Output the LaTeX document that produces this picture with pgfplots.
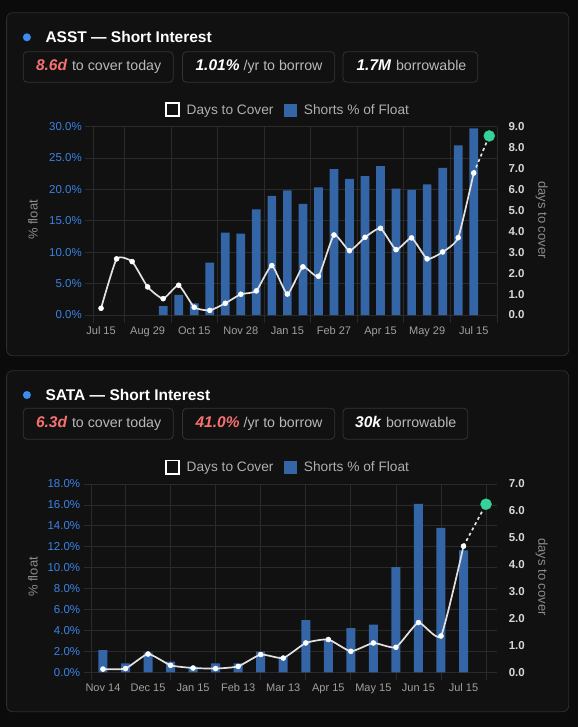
\documentclass[border=0pt]{standalone}
\usepackage{pgfplots}
\pgfplotsset{compat=1.18}
\usepackage{pgfplotstable}
\usepackage{fontspec}
\setmainfont{Liberation Sans}
\definecolor{pagebg}{RGB}{11,11,11}
\definecolor{cardbg}{RGB}{17,17,17}
\definecolor{cardborder}{RGB}{46,46,46}
\definecolor{boxborder}{RGB}{52,52,52}
\definecolor{gridc}{RGB}{42,42,42}
\definecolor{barblue}{RGB}{52,101,166}
\definecolor{tickblue}{RGB}{59,130,230}
\definecolor{tickgray}{RGB}{160,160,160}
\definecolor{rightlab}{RGB}{215,215,215}
\definecolor{axtitle}{RGB}{140,140,140}
\definecolor{redv}{RGB}{248,113,113}
\definecolor{greend}{RGB}{52,211,153}
\definecolor{dotblue}{RGB}{59,142,240}
\definecolor{linec}{RGB}{225,225,225}
\definecolor{subgray}{RGB}{185,185,185}
\definecolor{leggray}{RGB}{175,175,175}

\pgfplotstableread{
x y
4 1.43
5 3.19
6 1.86
7 8.34
8 13.1
9 12.96
10 16.8
11 18.96
12 19.85
13 17.7
14 20.3
15 23.2
16 21.65
17 22.1
18 23.7
19 20.1
20 19.9
21 20.8
22 23.4
23 27.0
24 29.7
}\asstbars

\pgfplotstableread{
x y
0 0.32
1 2.68
2 2.55
3 1.34
4 0.78
5 1.42
6 0.37
7 0.22
8 0.56
9 0.99
10 1.15
11 2.36
12 1.0
13 2.30
14 1.85
15 3.82
16 3.07
17 3.71
18 4.14
19 3.12
20 3.68
21 2.68
22 3.01
23 3.69
24 6.78
}\asstline

\pgfplotstableread{
x y
0 2.13
1 0.86
2 1.88
3 1.02
4 0.55
5 0.86
6 0.86
7 1.98
8 1.5
9 4.98
10 3.08
11 4.22
12 4.57
13 10.06
14 16.1
15 13.8
16 11.65
}\satabars

\pgfplotstableread{
x y
0 0.12
1 0.14
2 0.68
3 0.26
4 0.16
5 0.14
6 0.22
7 0.66
8 0.53
9 1.09
10 1.22
11 0.78
12 1.09
13 0.93
14 1.85
15 1.35
16 4.69
}\sataline

\pgfplotsset{
  baseaxis/.style={
    scale only axis, anchor=south west,
    axis line style={draw=none},
    /pgf/number format/assume math mode=true,
    tick align=outside,
    major tick length=8pt, minor tick length=8pt,
    clip=false,
  },
  leftaxis/.style={
    baseaxis,
    xtick pos=left, ytick pos=left,
    ymajorgrids, xminorgrids,
    major grid style={draw=gridc, line width=0.8pt},
    minor grid style={draw=gridc, line width=0.8pt},
    tick style={draw=gridc, line width=0.8pt},
    major x tick style={draw=none},
    xticklabel style={font=\fontsize{11}{13}\selectfont, text=tickgray},
    yticklabel style={font=\fontsize{11.5}{13}\selectfont, text=tickblue},
    yticklabel={\pgfmathprintnumber[fixed,fixed zerofill,precision=1]{\tick}\%},
  },
  rightaxis/.style={
    baseaxis,
    axis y line*=right, axis x line=none,
    tick style={draw=none},
    yticklabel style={font=\fontsize{11.5}{13}\selectfont\bfseries, text=rightlab},
    yticklabel={\pgfmathprintnumber[fixed,fixed zerofill,precision=1]{\tick}},
  },
  dtcline/.style={linec, line width=1.7pt, smooth, tension=0.3, mark=*, mark size=2.5pt,
    mark options={fill=white, draw=white, line width=0.5pt, solid}},
}

\begin{document}
\begin{tikzpicture}
\begin{scope}[x=1pt,y=-1pt]
\fill[pagebg] (0,0) rectangle (578,727);
% cards
\draw[cardborder, fill=cardbg, rounded corners=6pt, line width=0.8pt] (6.6,12.7) rectangle (568.7,355.7);
\draw[cardborder, fill=cardbg, rounded corners=6pt, line width=0.8pt] (6.6,370.7) rectangle (568.7,711.7);
% titles
\fill[dotblue] (26.9,37.3) circle[radius=4pt];
\node[anchor=base west, inner sep=0, text=white, font=\fontsize{15.5}{18}\selectfont\bfseries] at (45.3,42.7) {ASST — Short Interest};
\fill[dotblue] (26.9,395) circle[radius=4pt];
\node[anchor=base west, inner sep=0, text=white, font=\fontsize{15.5}{18}\selectfont\bfseries] at (45.3,400.3) {SATA — Short Interest};
% stat boxes panel 1
\draw[boxborder, fill=cardbg, rounded corners=4pt, line width=0.8pt] (23.2,51.7) rectangle (173.2,82.3);
\draw[boxborder, fill=cardbg, rounded corners=4pt, line width=0.8pt] (182.5,51.7) rectangle (334.7,82.3);
\draw[boxborder, fill=cardbg, rounded corners=4pt, line width=0.8pt] (343,51.7) rectangle (477.7,82.3);
\node[anchor=base west, inner sep=0] at (35.8,71) {{\fontsize{15.5}{18}\selectfont\bfseries\itshape\color{redv}8.6d}\hspace{5pt}{\fontsize{14.2}{17}\selectfont\color{subgray}to cover today}};
\node[anchor=base west, inner sep=0] at (195.4,71) {{\fontsize{15.5}{18}\selectfont\bfseries\itshape\color{white}1.01\%}\hspace{4pt}{\fontsize{14.2}{17}\selectfont\color{subgray}/yr to borrow}};
\node[anchor=base west, inner sep=0] at (356.4,71) {{\fontsize{15.5}{18}\selectfont\bfseries\itshape\color{white}1.7M}\hspace{5pt}{\fontsize{14.2}{17}\selectfont\color{subgray}borrowable}};
% stat boxes panel 2
\draw[boxborder, fill=cardbg, rounded corners=4pt, line width=0.8pt] (23.2,408.3) rectangle (173.2,439.3);
\draw[boxborder, fill=cardbg, rounded corners=4pt, line width=0.8pt] (182.5,408.3) rectangle (334.7,439.3);
\draw[boxborder, fill=cardbg, rounded corners=4pt, line width=0.8pt] (343,408.3) rectangle (467.8,439.3);
\node[anchor=base west, inner sep=0] at (35.8,427.7) {{\fontsize{15.5}{18}\selectfont\bfseries\itshape\color{redv}6.3d}\hspace{5pt}{\fontsize{14.2}{17}\selectfont\color{subgray}to cover today}};
\node[anchor=base west, inner sep=0] at (195.4,427.7) {{\fontsize{15.5}{18}\selectfont\bfseries\itshape\color{redv}41.0\%}\hspace{4pt}{\fontsize{14.2}{17}\selectfont\color{subgray}/yr to borrow}};
\node[anchor=base west, inner sep=0] at (355,427.7) {{\fontsize{15.5}{18}\selectfont\bfseries\itshape\color{white}30k}\hspace{5pt}{\fontsize{14.2}{17}\selectfont\color{subgray}borrowable}};
% legends
\draw[white, line width=1.8pt, fill=cardbg] (166,103) rectangle (179,116.3);
\node[anchor=base west, inner sep=0, text=leggray, font=\fontsize{13.7}{16}\selectfont] at (186.5,114.3) {Days to Cover};
\fill[barblue] (283.8,103.7) rectangle (297.1,116.7);
\node[anchor=base west, inner sep=0, text=leggray, font=\fontsize{13.7}{16}\selectfont] at (303.7,114.3) {Shorts \% of Float};
\draw[white, line width=1.8pt, fill=cardbg] (166,460.4) rectangle (179,473.7);
\node[anchor=base west, inner sep=0, text=leggray, font=\fontsize{13.7}{16}\selectfont] at (186.5,471.7) {Days to Cover};
\fill[barblue] (283.8,461.1) rectangle (297.1,474.1);
\node[anchor=base west, inner sep=0, text=leggray, font=\fontsize{13.7}{16}\selectfont] at (303.7,471.7) {Shorts \% of Float};
% axis titles
\node[rotate=90, text=axtitle, font=\fontsize{13}{15}\selectfont] at (33,220) {\% float};
\node[rotate=-90, text=axtitle, font=\fontsize{13}{15}\selectfont] at (541.7,220) {days to cover};
\node[rotate=90, text=axtitle, font=\fontsize{13}{15}\selectfont] at (33,577) {\% float};
\node[rotate=-90, text=axtitle, font=\fontsize{13}{15}\selectfont] at (541.7,577) {days to cover};
\end{scope}

% ---------- Panel 1: ASST ----------
\begin{axis}[leftaxis, at={(93.3pt,-315pt)}, width=403.7pt, height=188.5pt,
  xmin=-0.5, xmax=25.5, ymin=0, ymax=30,
  xtick={0,3,...,24},
  xticklabels={Jul 15,Aug 29,Oct 15,Nov 28,Jan 15,Feb 27,Apr 15,May 29,Jul 15},
  minor xtick={-0.5,1.5,4.5,7.5,10.5,13.5,16.5,19.5,22.5,25.5},
  ytick={0,5,...,30}]
\addplot[ybar, bar width=8.7pt, fill=barblue, draw=none] table[x=x,y=y]{\asstbars};
\end{axis}
\begin{axis}[rightaxis, at={(93.3pt,-315pt)}, width=403.7pt, height=188.5pt,
  xmin=-0.5, xmax=25.5, ymin=0, ymax=9, ytick={0,1,...,9}]
\addplot[linec, line width=1.7pt, dash pattern=on 3pt off 3pt] coordinates {(24,6.78) (25,8.55)};
\addplot[dtcline] table[x=x,y=y]{\asstline};
\addplot[only marks, mark=*, mark size=5.5pt, mark options={fill=greend, draw=greend}] coordinates {(25,8.55)};
\end{axis}

% ---------- Panel 2: SATA ----------
\begin{axis}[leftaxis, at={(91.7pt,-672.3pt)}, width=405.6pt, height=188.3pt,
  xmin=-0.5, xmax=17.5, ymin=0, ymax=18,
  xtick={0,2,...,16},
  xticklabels={Nov 14,Dec 15,Jan 15,Feb 13,Mar 13,Apr 15,May 15,Jun 15,Jul 15},
  minor xtick={-0.5,1,3,5,7,9,11,13,15,17},
  ytick={0,2,...,18}]
\addplot[ybar, bar width=9pt, fill=barblue, draw=none] table[x=x,y=y]{\satabars};
\end{axis}
\begin{axis}[rightaxis, at={(91.7pt,-672.3pt)}, width=405.6pt, height=188.3pt,
  xmin=-0.5, xmax=17.5, ymin=0, ymax=7, ytick={0,1,...,7}]
\addplot[linec, line width=1.7pt, dash pattern=on 3pt off 3pt] coordinates {(16,4.69) (17,6.25)};
\addplot[dtcline] table[x=x,y=y]{\sataline};
\addplot[only marks, mark=*, mark size=5.5pt, mark options={fill=greend, draw=greend}] coordinates {(17,6.25)};
\end{axis}

\pgfresetboundingbox
\path[use as bounding box] (0pt,0pt) rectangle (578pt,-727pt);
\end{tikzpicture}
\end{document}
